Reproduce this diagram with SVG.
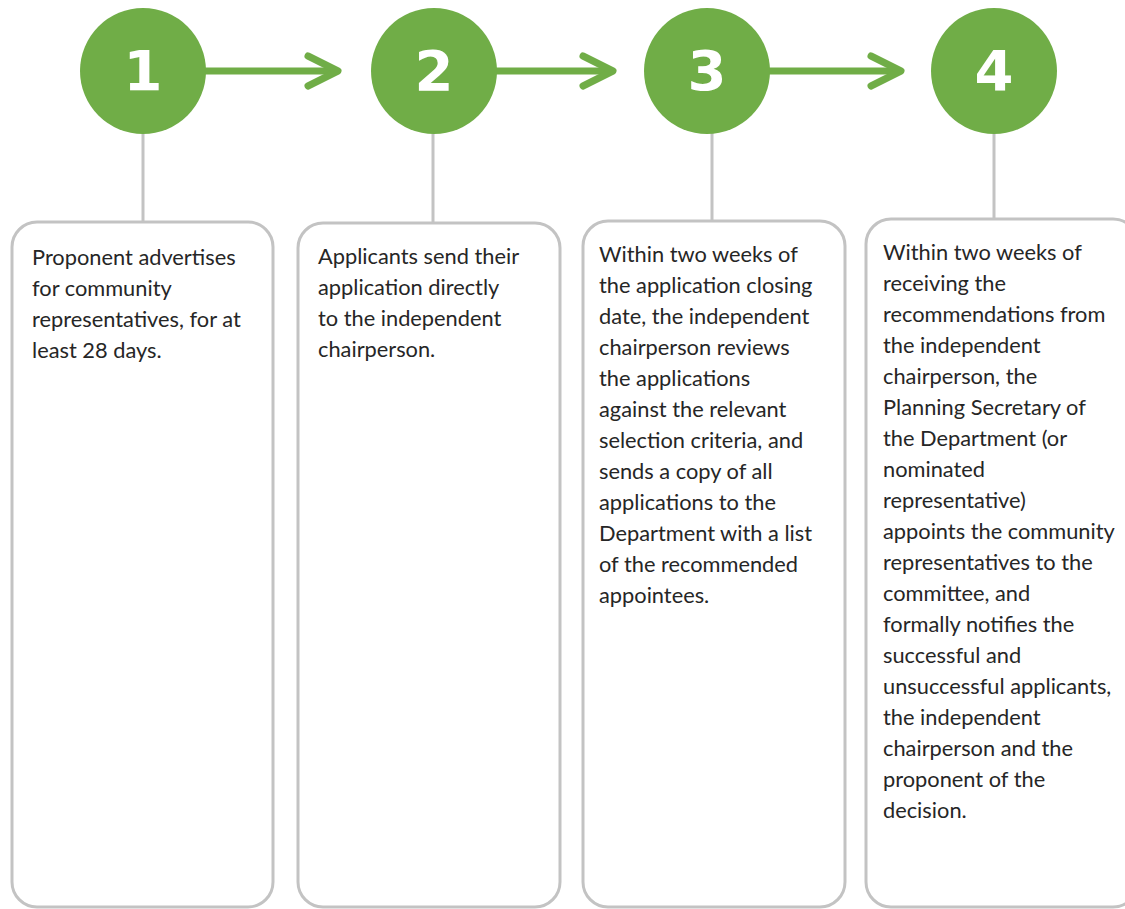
<svg xmlns="http://www.w3.org/2000/svg" width="1125" height="909" viewBox="0 0 1125 909">
  <style>
    .step { fill: #70ad47; }
    .num { fill: #ffffff; font-family: "DejaVu Sans", sans-serif; font-weight: 900; font-size: 56px; text-anchor: middle; }
    .box { fill: #ffffff; stroke: #c3c3c3; stroke-width: 3; }
    .txt { fill: #262626; font-family: Lato, "Open Sans", sans-serif; font-size: 21.8px; }
    .flow { stroke: #70ad47; stroke-width: 7; fill: none; }
    .stem { stroke: #c3c3c3; stroke-width: 3; fill: none; }
  </style>
  <defs>
    <marker id="chev" markerUnits="userSpaceOnUse" markerWidth="40" markerHeight="40" viewBox="0 0 40 40" refX="34" refY="20" orient="auto" overflow="visible">
      <path d="M4,5 L34,20 L4,35" fill="none" stroke="#70ad47" stroke-width="7" stroke-linecap="round" stroke-linejoin="round"/>
    </marker>
  </defs>
  <rect width="1125" height="909" fill="#ffffff"/>

  <g id="connectors">
    <line class="flow" x1="205" y1="71" x2="338" y2="71" marker-end="url(#chev)"/>
    <line class="flow" x1="495" y1="71" x2="613" y2="71" marker-end="url(#chev)"/>
    <line class="flow" x1="769" y1="71" x2="901" y2="71" marker-end="url(#chev)"/>
    <line class="stem" x1="143" y1="133" x2="143" y2="222"/>
    <line class="stem" x1="433" y1="133" x2="433" y2="223"/>
    <line class="stem" x1="712" y1="133" x2="712" y2="221"/>
    <line class="stem" x1="994" y1="133" x2="994" y2="219"/>
  </g>

  <g id="step1">
    <circle class="step" cx="143" cy="71" r="63"/>
    <text class="num" x="143" y="90">1</text>
  </g>
  <g id="step2">
    <circle class="step" cx="434" cy="71" r="63"/>
    <text class="num" x="434" y="90">2</text>
  </g>
  <g id="step3">
    <circle class="step" cx="707" cy="71" r="63"/>
    <text class="num" x="707" y="90">3</text>
  </g>
  <g id="step4">
    <circle class="step" cx="994" cy="71" r="63"/>
    <text class="num" x="994" y="90">4</text>
  </g>

  <g id="box1">
    <rect class="box" x="12" y="222" width="261" height="685" rx="25"/>
    <text class="txt" x="32" y="265">Proponent advertises</text>
    <text class="txt" x="32" y="296">for community</text>
    <text class="txt" x="32" y="327">representatives, for at</text>
    <text class="txt" x="32" y="358">least 28 days.</text>
  </g>
  <g id="box2">
    <rect class="box" x="298" y="223" width="262" height="684" rx="25"/>
    <text class="txt" x="318" y="264">Applicants send their</text>
    <text class="txt" x="318" y="295">application directly</text>
    <text class="txt" x="318" y="326">to the independent</text>
    <text class="txt" x="318" y="357">chairperson.</text>
  </g>
  <g id="box3">
    <rect class="box" x="583" y="221" width="262" height="686" rx="25"/>
    <text class="txt" x="599" y="262">Within two weeks of</text>
    <text class="txt" x="599" y="293">the application closing</text>
    <text class="txt" x="599" y="324">date, the independent</text>
    <text class="txt" x="599" y="355">chairperson reviews</text>
    <text class="txt" x="599" y="386">the applications</text>
    <text class="txt" x="599" y="417">against the relevant</text>
    <text class="txt" x="599" y="448">selection criteria, and</text>
    <text class="txt" x="599" y="479">sends a copy of all</text>
    <text class="txt" x="599" y="510">applications to the</text>
    <text class="txt" x="599" y="541">Department with a list</text>
    <text class="txt" x="599" y="572">of the recommended</text>
    <text class="txt" x="599" y="603">appointees.</text>
  </g>
  <g id="box4">
    <rect class="box" x="866" y="219" width="272" height="688" rx="25"/>
    <text class="txt" x="883" y="260">Within two weeks of</text>
    <text class="txt" x="883" y="291">receiving the</text>
    <text class="txt" x="883" y="322">recommendations from</text>
    <text class="txt" x="883" y="353">the independent</text>
    <text class="txt" x="883" y="384">chairperson, the</text>
    <text class="txt" x="883" y="415">Planning Secretary of</text>
    <text class="txt" x="883" y="446">the Department (or</text>
    <text class="txt" x="883" y="477">nominated</text>
    <text class="txt" x="883" y="508">representative)</text>
    <text class="txt" x="883" y="539">appoints the community</text>
    <text class="txt" x="883" y="570">representatives to the</text>
    <text class="txt" x="883" y="601">committee, and</text>
    <text class="txt" x="883" y="632">formally notifies the</text>
    <text class="txt" x="883" y="663">successful and</text>
    <text class="txt" x="883" y="694">unsuccessful applicants,</text>
    <text class="txt" x="883" y="725">the independent</text>
    <text class="txt" x="883" y="756">chairperson and the</text>
    <text class="txt" x="883" y="787">proponent of the</text>
    <text class="txt" x="883" y="818">decision.</text>
  </g>
</svg>
